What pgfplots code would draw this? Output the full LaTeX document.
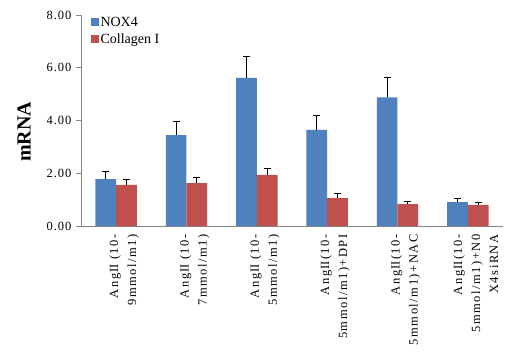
\documentclass[border=0pt]{standalone}
\usepackage{fontspec}
\setmainfont{Liberation Serif}
\newfontfamily\lblfont[LetterSpace=12]{Liberation Serif}
\newfontfamily\tickfont[LetterSpace=8]{Liberation Serif}
\usepackage{pgfplots}
\pgfplotsset{compat=1.18}
\definecolor{nox}{HTML}{4F81BD}
\definecolor{col}{HTML}{C0504D}
\definecolor{axgray}{HTML}{868686}
\newcommand{\II}{I\kern-0.6ptI}
\begin{document}
\begin{tikzpicture}
\path[use as bounding box] (-81pt,-130pt) rectangle (430pt,226pt);
\begin{axis}[
  at={(0pt,0pt)}, anchor=south west,
  scale only axis, width=422pt, height=211pt,
  xmin=-0.5, xmax=5.5, ymin=0, ymax=8,
  axis x line*=bottom, axis y line*=left,
  axis line style={axgray, line width=0.8pt},
  ytick={0,2,4,6,8},
  /pgf/number format/fixed,
  /pgf/number format/fixed zerofill,
  /pgf/number format/precision=2,
  /pgf/number format/assume math mode=true,
  yticklabel style={font=\fontsize{12.5}{14}\tickfont, xshift=-1pt},
  ytick style={axgray, line width=0.8pt},
  tick align=outside,
  major tick length=5pt,
  xtick={0,1,2,3,4,5},
  xticklabels={
    {Ang\II\ (10-\\9mmol/m1)},
    {Ang\II\ (10-\\7mmol/m1)},
    {Ang\II\ (10-\\5mmol/m1)},
    {Ang\II(10-\\5mmol/m1)+DPI},
    {Ang\II(10-\\5mmol/m1)+NAC},
    {Ang\II(10-\\5mmol/m1)+N0\\X4siRNA}},
  xticklabel style={rotate=90, anchor=east, align=right, font=\fontsize{12.5}{18}\lblfont, yshift=-8pt},
  xtick style={draw=none},
  minor xtick={-0.5,0.5,...,5.5},
  minor tick length=7pt,
  minor tick style={axgray, line width=0.8pt},
  ybar=0pt, bar width=20.7pt,
  legend style={at={(0.015,1.01)}, anchor=north west, draw=none, fill=none,
    font=\fontsize{14}{16}\selectfont, row sep=2pt},
  legend cell align=left,
  legend image code/.code={\fill[#1] (0pt,-4pt) rectangle (8pt,4pt);},
  error bars/error bar style={black, line width=0.9pt},
  error bars/error mark options={rotate=90, mark size=3.5pt, black, line width=0.9pt},
]
\addplot[fill=nox, draw=none, error bars/.cd, y dir=plus, y explicit]
  coordinates {(0,1.78) +- (0,0.28) (1,3.45) +- (0,0.51) (2,5.62) +- (0,0.81)
               (3,3.64) +- (0,0.56) (4,4.88) +- (0,0.76) (5,0.91) +- (0,0.14)};
\addplot[fill=col, draw=none, error bars/.cd, y dir=plus, y explicit]
  coordinates {(0,1.56) +- (0,0.21) (1,1.63) +- (0,0.22) (2,1.94) +- (0,0.25)
               (3,1.06) +- (0,0.18) (4,0.83) +- (0,0.11) (5,0.80) +- (0,0.10)};
\legend{NOX4, Collagen I}
\end{axis}
\node[rotate=90, font=\fontsize{20}{22}\selectfont\bfseries] at (-57pt,94pt) {mRNA};
\end{tikzpicture}
\end{document}
